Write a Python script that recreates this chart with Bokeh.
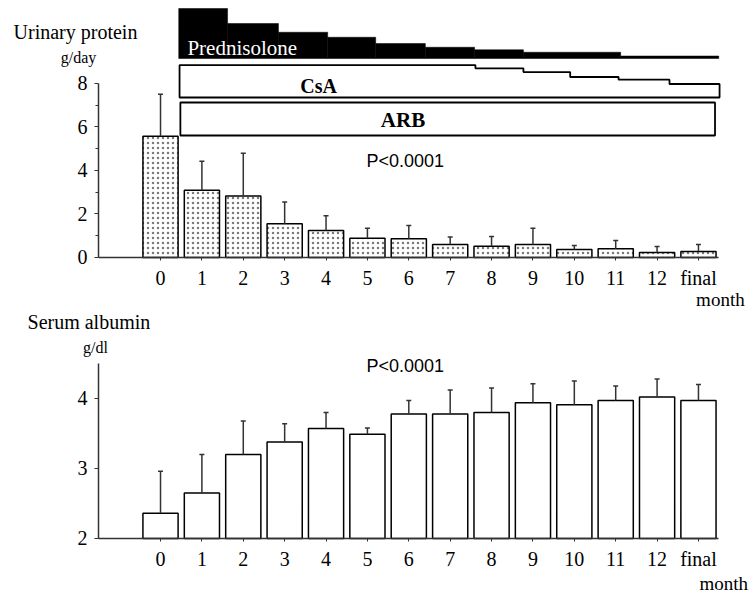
from bokeh.plotting import figure
from bokeh.models import Range1d, FixedTicker, Label
from bokeh.layouts import column
from bokeh.embed import file_html
from bokeh.resources import INLINE

# ---------------- data ----------------
months = ["0", "1", "2", "3", "4", "5", "6", "7", "8", "9", "10", "11", "12", "final"]
protein_mean = [5.58, 3.09, 2.83, 1.55, 1.24, 0.89, 0.86, 0.60, 0.52, 0.60, 0.37, 0.40, 0.23, 0.28]
protein_sd = [1.92, 1.33, 1.96, 1.00, 0.68, 0.46, 0.61, 0.34, 0.45, 0.75, 0.18, 0.38, 0.27, 0.32]
albumin_mean = [2.36, 2.65, 3.20, 3.38, 3.57, 3.49, 3.78, 3.78, 3.80, 3.94, 3.91, 3.97, 4.02, 3.97]
albumin_sd = [0.60, 0.55, 0.48, 0.26, 0.23, 0.09, 0.19, 0.34, 0.35, 0.27, 0.34, 0.21, 0.26, 0.23]

# treatment schedule (x in month-axis units)
pred_edges = [0.44, 1.62, 2.85, 4.04, 5.20, 6.40, 7.59, 8.77, 11.12, 13.49]
pred_dose = [40, 28, 21, 17, 12, 9, 7, 5, 2]
csa_edges = [0.46, 7.61, 8.77, 9.90, 11.07, 12.30, 13.51]
csa_dose = [3.0, 2.7, 2.35, 1.9, 1.65, 1.25]
arb_span = [0.48, 13.40]

p_text = "P<0.0001"

# ---------------- layout constants ----------------
SERIF = "Liberation Serif"
SANS = "Liberation Sans"
AX = "#333333"
W = 753
# schedule lanes, in pixels from top of the upper figure
PRED_BASE, PRED_PX = 58, 1.25
CSA_BASE, CSA_PX = 97, 10.8
ARB_TOP, ARB_BOT = 102, 135

x = list(range(len(months)))
overrides = {i: m for i, m in enumerate(months)}


def base_fig(y0, y1, h, y_axis_at):
    p = figure(width=W, height=h, x_range=Range1d(-3.867, 14.33),
               y_range=Range1d(y0, y1), output_backend="svg", toolbar_location=None,
               min_border=0)
    p.grid.visible = False
    p.outline_line_color = None
    p.background_fill_color = "white"
    p.border_fill_color = "white"
    for ax in (p.xaxis, p.yaxis):
        ax.axis_line_color = AX
        ax.axis_line_width = 1.5
        ax.major_tick_line_color = AX
        ax.minor_tick_line_color = AX
        ax.major_tick_in = 0
        ax.minor_tick_in = 0
        ax.major_label_text_font = SERIF
        ax.major_label_text_font_size = "20px"
        ax.major_label_text_color = "black"
    p.xaxis.ticker = FixedTicker(ticks=x)
    p.xaxis.major_label_overrides = overrides
    p.xaxis.major_tick_out = 3
    p.xaxis.major_label_standoff = 7
    p.xaxis.bounds = (-1.5, 13.49)
    p.xaxis.fixed_location = y_axis_at
    p.yaxis.fixed_location = -1.5
    p.yaxis.major_tick_out = 4
    p.yaxis.minor_tick_out = 3
    p.yaxis.major_label_standoff = 7
    return p


def add_label(p, xx, yy, txt, font, size, align="left", bold=False, color="black", rng="default"):
    p.add_layout(Label(x=xx, y=yy, text=txt, text_font=font, text_font_size=size,
                       text_align=align, text_baseline="middle", text_color=color,
                       text_font_style="bold" if bold else "normal", y_range_name=rng))


# ---------------- top: urinary protein ----------------
p1 = base_fig(-2.437, 11.816, 310, 0)
p1.yaxis.ticker = FixedTicker(ticks=[0, 2, 4, 6, 8], minor_ticks=[1, 3, 5, 7])
p1.yaxis.bounds = (0, 8)
p1.extra_y_ranges = {"sched": Range1d(start=310, end=0)}

p1.vbar(x=x, top=protein_mean, bottom=0, width=0.85, fill_color="white",
        line_color="black", line_width=1.5, hatch_pattern="dot", hatch_scale=5,
        hatch_color="#7a7a7a", hatch_weight=1.5)
up1 = [m + s for m, s in zip(protein_mean, protein_sd)]
p1.segment(x0=x, y0=protein_mean, x1=x, y1=up1, line_color=AX, line_width=1.5)
p1.dash(x=x, y=up1, size=5, line_color=AX, line_width=1.5)

# prednisolone (black steps)
p1.quad(left=pred_edges[:-1], right=pred_edges[1:], bottom=PRED_BASE,
        top=[PRED_BASE - d * PRED_PX for d in pred_dose], fill_color="black",
        line_color="black", line_width=0.5, y_range_name="sched")
# CsA (outlined stepped box)
px, py = [csa_edges[0]], [CSA_BASE]
for i, d in enumerate(csa_dose):
    t = CSA_BASE - d * CSA_PX
    px += [csa_edges[i], csa_edges[i + 1]]
    py += [t, t]
px.append(csa_edges[-1]); py.append(CSA_BASE)
p1.patch(px, py, fill_color="white", line_color="black", line_width=1.8, y_range_name="sched")
# ARB box
p1.quad(left=[arb_span[0]], right=[arb_span[1]], top=[ARB_TOP], bottom=[ARB_BOT],
        fill_color="white", line_color="black", line_width=1.8, y_range_name="sched")

add_label(p1, 0.65, 47, "Prednisolone", SERIF, "21px", color="white", rng="sched")
add_label(p1, 3.82, 85, "CsA", SERIF, "20px", align="center", bold=True, rng="sched")
add_label(p1, 5.86, 119, "ARB", SERIF, "21px", align="center", bold=True, rng="sched")

add_label(p1, -3.552, 10.345, "Urinary protein", SERIF, "20px")
add_label(p1, -1.98, 9.195, "g/day", SERIF, "16px", align="center")
add_label(p1, 4.978, 4.414, p_text, SANS, "18px")
add_label(p1, 13.53, -1.95, "month", SERIF, "19px", align="center")

# ---------------- bottom: serum albumin ----------------
p2 = base_fig(1.171, 5.257, 286, 2)
p2.yaxis.ticker = FixedTicker(ticks=[2, 3, 4], minor_ticks=[])
p2.yaxis.bounds = (2, 4.5)

p2.vbar(x=x, top=albumin_mean, bottom=2, width=0.85, fill_color="white",
        line_color="black", line_width=1.5)
up2 = [m + s for m, s in zip(albumin_mean, albumin_sd)]
p2.segment(x0=x, y0=albumin_mean, x1=x, y1=up2, line_color=AX, line_width=1.5)
p2.dash(x=x, y=up2, size=5, line_color=AX, line_width=1.5)

add_label(p2, -3.214, 5.086, "Serum albumin", SERIF, "20px")
add_label(p2, -1.571, 4.729, "g/dl", SERIF, "16px", align="center")
add_label(p2, 4.978, 4.471, p_text, SANS, "18px")
add_label(p2, 13.61, 1.35, "month", SERIF, "19px", align="center")

layout = column(p1, p2, spacing=0)
open("out.html", "w").write(file_html(layout, INLINE))
